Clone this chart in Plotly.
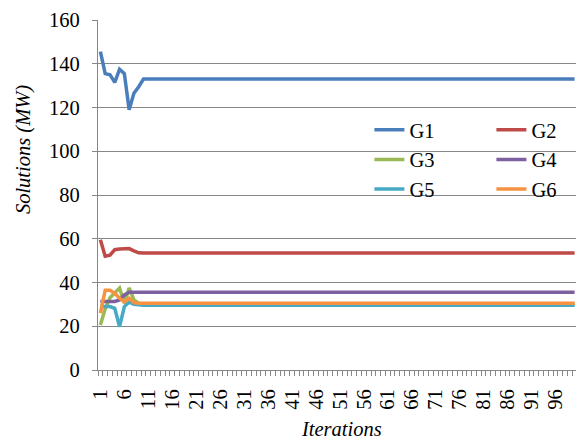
import plotly.graph_objects as go

iterations = list(range(1, 101))

G1 = [145.5, 135.5, 135.0, 131.5, 137.5, 135.5, 119.0, 126.5, 129.5, 133.0] + [133.0] * 90
G2 = [59.5, 52.0, 52.5, 55.0, 55.3, 55.5, 55.5, 54.5, 53.6, 53.5] + [53.5] * 90
G3 = [20.6, 28.0, 33.0, 35.5, 37.5, 30.5, 37.5, 32.0, 30.5, 30.2] + [30.2] * 90
G4 = [31.3, 31.3, 31.3, 31.3, 32.0, 34.3, 35.6, 35.5, 35.5, 35.5] + [35.5] * 90
G5 = [29.0, 29.0, 29.0, 28.2, 19.8, 29.0, 31.0, 30.0, 29.6, 29.6] + [29.6] * 90
G6 = [26.0, 36.5, 36.5, 35.0, 32.8, 31.2, 32.8, 30.8, 30.5, 30.5] + [30.5] * 90

series = [("G1", G1, "#4A7EBB"), ("G2", G2, "#BE4B48"), ("G3", G3, "#98B954"),
          ("G4", G4, "#7D60A0"), ("G5", G5, "#46AAC5"), ("G6", G6, "#F69240")]

x_tickvals = list(range(1, 101, 5))
x_ticktext = [str(v) for v in x_tickvals]
y_tickvals = list(range(0, 161, 20))

FONT = "Liberation Serif"
GRID = "#878787"

fig = go.Figure()
for name, vals, col in series:
    fig.add_trace(go.Scatter(x=iterations, y=vals, name=name, mode="lines",
                             line=dict(color=col, width=3.5)))

fig.update_layout(
    width=576, height=432,
    margin=dict(l=90, r=6.5, t=12, b=70, autoexpand=False),
    paper_bgcolor="white", plot_bgcolor="white",
    font=dict(family=FONT, size=20.5, color="black"),
    showlegend=True,
    legend=dict(orientation="h", x=1.076, xanchor="right", y=0.743, yanchor="top",
                entrywidth=77, entrywidthmode="pixels",
                bgcolor="rgba(0,0,0,0)", font=dict(family=FONT, size=20.5),
                itemwidth=30),
    xaxis=dict(range=[0.5, 100.5], tickmode="array", tickvals=x_tickvals, ticktext=x_ticktext,
               tickangle=-90, ticks="", showgrid=False, zeroline=False,
               showline=True, linecolor=GRID, linewidth=1.3,
               ticklabelstandoff=10,
               minor=dict(tickmode="linear", tick0=0.5, dtick=1, ticks="outside",
                          ticklen=5, tickcolor=GRID, tickwidth=1, showgrid=False),
               tickfont=dict(family=FONT, size=20.5)),
    yaxis=dict(range=[0, 160], tickmode="array", tickvals=y_tickvals,
               ticks="outside", ticklen=5, tickcolor=GRID, tickwidth=1,
               showgrid=True, gridcolor=GRID, gridwidth=1,
               zeroline=False, showline=True, linecolor=GRID, linewidth=1.3,
               ticklabelstandoff=8, tickfont=dict(family=FONT, size=20.5)),
    annotations=[
        dict(text="<i>Solutions (MW)</i>", xref="paper", yref="paper",
             x=-0.1543, y=0.6286, xanchor="center", yanchor="middle",
             textangle=-90, showarrow=False,
             font=dict(family=FONT, size=20.5)),
        dict(text="<i>Iterations</i>", xref="paper", yref="paper",
             x=0.508, y=-0.1686, xanchor="center", yanchor="middle",
             showarrow=False, font=dict(family=FONT, size=20.5)),
    ],
)

fig.write_html("out.html")
